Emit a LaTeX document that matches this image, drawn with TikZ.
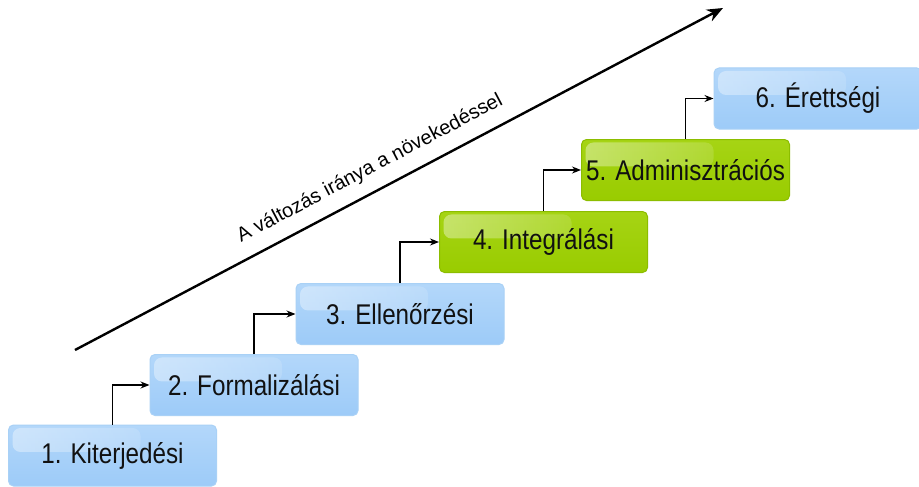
\documentclass[tikz,border=0pt]{standalone}
\usepackage{fontspec}
\usepackage{graphicx}
\setmainfont{Liberation Sans}
\usetikzlibrary{arrows.meta,fadings}
\definecolor{stepblue}{HTML}{9DCBF8}
\definecolor{stepbluetop}{HTML}{B3D7FA}
\definecolor{stepblueedge}{HTML}{A9D1F6}
\definecolor{stepgreen}{HTML}{99CC00}
\definecolor{stepgreentop}{HTML}{A6D414}
\definecolor{stepgreenedge}{HTML}{8CBD00}
\definecolor{steptext}{HTML}{111111}
\newcommand{\steplabel}[1]{\scalebox{0.85}[1]{\fontsize{28.5}{30}\selectfont #1}}
\tikzset{
  stair/.style={
    rounded corners=5pt, minimum width=208pt, minimum height=61pt,
    inner sep=0pt, text=steptext, line width=1pt,
    path picture={
      \fill[white, opacity=.38, path fading=east, rounded corners=8pt]
        ([xshift=4pt,yshift=-3pt]path picture bounding box.north west)
        rectangle ++(128pt,-24pt);
    }},
  bluestep/.style={stair, draw=stepblueedge, top color=stepbluetop, bottom color=stepblue},
  greenstep/.style={stair, draw=stepgreenedge, top color=stepgreentop, bottom color=stepgreen},
  link/.style={draw=black, line width=1.2pt, -{Stealth[length=9pt,width=7pt]}},
  trend/.style={draw=black, line width=2.4pt, -{Stealth[length=16pt,width=13pt]}}
}
\begin{document}
\begin{tikzpicture}[x=1pt,y=1pt]
  \useasboundingbox (0,0) rectangle (919,-487);
  \fill[white] (0,0) rectangle (919,-487);

  % the long trend arrow and its caption
  \coordinate (trendstart) at (75,-350);
  \coordinate (trendend) at (723,-8);
  \draw[trend] (trendstart) -- (trendend);
  \node[anchor=base, rotate=27.82, inner sep=0pt, font=\fontsize{20}{22}\selectfont]
    (caption) at (372.5,-173.3) {A változás iránya a növekedéssel};

  % the six steps
  \node[bluestep]  (s1) at (112.5,-455.5) {\steplabel{1. Kiterjedési}};
  \node[bluestep]  (s2) at (254,-385)     {\steplabel{2. Formalizálási}};
  \node[bluestep]  (s3) at (400,-314)     {\steplabel{3. Ellenőrzési}};
  \node[greenstep] (s4) at (543.5,-242)   {\steplabel{4. Integrálási}};
  \node[greenstep] (s5) at (685.5,-170)   {\steplabel{5. Adminisztrációs}};
  \node[bluestep]  (s6) at (818,-98.5)    {\steplabel{6. Érettségi}};

  % elbow links from each step to the next
  \foreach \a/\b in {s1/s2, s2/s3, s3/s4, s4/s5, s5/s6}
    \draw[link] (\a.north) |- (\b.west);
\end{tikzpicture}
\end{document}
